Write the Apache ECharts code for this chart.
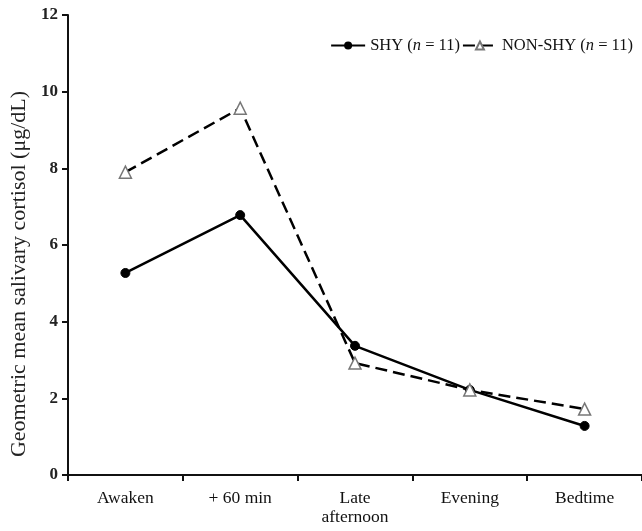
<!DOCTYPE html>
<html><head><meta charset="utf-8">
<script src="https://cdn.jsdelivr.net/npm/echarts@6/dist/echarts.min.js"></script>
<style>html,body{margin:0;padding:0;background:#fff}#c{width:642px;height:531px}</style>
</head><body><div id="c"></div>
<script>
const categories = ['Awaken', '+ 60 min', 'Late\nafternoon', 'Evening', 'Bedtime'];
const shy = [5.27, 6.78, 3.37, 2.22, 1.28];
const nonShy = [7.9, 9.57, 2.92, 2.22, 1.72];
const yTicks = [0, 2, 4, 6, 8, 10, 12];

const font = '"Liberation Serif", "Times New Roman", serif';
const chart = echarts.init(document.getElementById('c'));
chart.setOption({
  animation: false,
  textStyle: { fontFamily: font, color: '#111' },
  grid: { left: 68, top: 15, width: 577, height: 460, containLabel: false },
  legend: {
    top: 32, right: 4, itemGap: 2, itemWidth: 34, itemHeight: 10,
    textStyle: { fontFamily: font, fontSize: 16.5, color: '#111',
      rich: { i: { fontStyle: 'italic', fontFamily: font, fontSize: 16.5, color: '#111' } } },
    formatter: n => n === 'SHY' ? 'SHY ({i|n} = 11)' : 'NON-SHY ({i|n} = 11)',
    data: ['SHY', 'NON-SHY']
  },
  xAxis: {
    type: 'category', data: categories, boundaryGap: true,
    axisLine: { lineStyle: { color: '#111', width: 2 } },
    axisTick: { show: true, length: 6, lineStyle: { color: '#111', width: 2 } },
    axisLabel: { fontFamily: font, fontSize: 17.5, color: '#111', margin: 14, lineHeight: 19 }
  },
  yAxis: {
    type: 'value', min: yTicks[0], max: yTicks[yTicks.length - 1], interval: 2,
    name: 'Geometric mean salivary cortisol (μg/dL)', nameLocation: 'middle', nameGap: 35,
    nameTextStyle: { fontFamily: font, fontSize: 22, color: '#222', padding: [0, 58, 0, 0] },
    splitLine: { show: false },
    axisLine: { show: true, lineStyle: { color: '#111', width: 2 } },
    axisTick: { show: true, length: 6, lineStyle: { color: '#111', width: 2 } },
    axisLabel: { fontFamily: font, fontSize: 17, fontWeight: 'bold', color: '#222', margin: 10 }
  },
  series: [
    { name: 'SHY', type: 'line', data: shy, symbol: 'circle', symbolSize: 9,
      lineStyle: { color: '#000', width: 2.5 },
      itemStyle: { color: '#000', borderColor: '#000' }, z: 3 },
    { name: 'NON-SHY', type: 'line', data: nonShy, symbol: 'triangle', symbolSize: 12,
      lineStyle: { color: '#000', width: 2.5, type: [12, 6] },
      itemStyle: { color: '#fff', borderColor: '#777', borderWidth: 1.5 }, z: 4 }
  ]
});
</script></body></html>
